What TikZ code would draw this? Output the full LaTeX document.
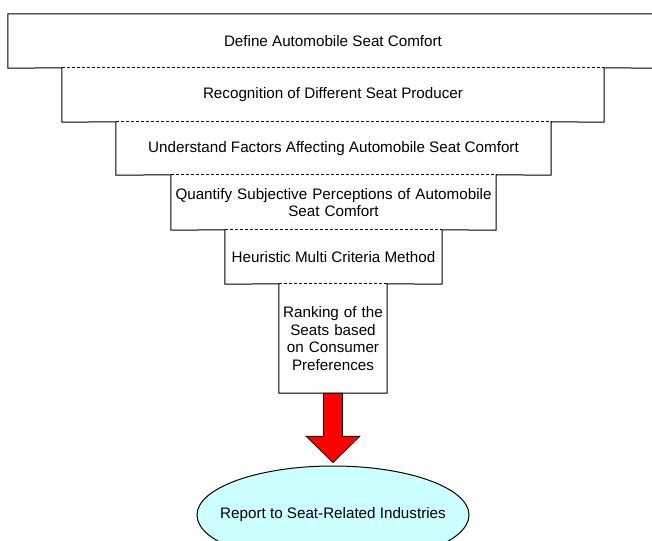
\documentclass[tikz,border=0pt]{standalone}
\usepackage{fontspec}
\setmainfont{Liberation Sans}
\usetikzlibrary{calc,shapes.geometric}
\definecolor{lightcyan}{HTML}{CCFFFF}
\begin{document}
\begin{tikzpicture}[x=1pt,y=-1pt,
  stage/.style={draw=none,inner sep=0pt,align=center,font=\fontsize{15.2}{17.5}\selectfont},
  outline/.style={draw=black,line width=1pt,line join=miter},
  shared/.style={draw=black,line width=0.9pt,dashed,dash pattern=on 3pt off 2pt},
  bigarrow/.style={fill=red,draw=black,line width=0.7pt,line join=miter},
  goal/.style={ellipse,draw=black,line width=1pt,fill=lightcyan,minimum width=272pt,minimum height=98pt,inner sep=0pt},
  goaltext/.style={inner sep=0pt,font=\fontsize{15.2}{17.5}\selectfont}]
\useasboundingbox (0,0) rectangle (652,540);
\clip (0,0) rectangle (652,540);
\node[stage,minimum width=650pt,minimum height=54pt] (b1) at (333,41) {Define Automobile Seat Comfort};
\node[stage,minimum width=542pt,minimum height=54pt] (b2) at (333,95) {Recognition of Different Seat Producer};
\node[stage,minimum width=435pt,minimum height=53pt] (b3) at (333.5,148.5) {Understand Factors Affecting Automobile Seat Comfort};
\node[stage,minimum width=325pt,minimum height=55pt,text width=322pt] (b4) at (333.5,202.5) {Quantify Subjective Perceptions of Automobile\\Seat Comfort};
\node[stage,minimum width=217pt,minimum height=54pt] (b5) at (333.5,257) {Heuristic Multi Criteria Method};
\node[stage,minimum width=108pt,minimum height=109pt,text width=106pt] (b6) at (333,338.5) {Ranking of the\\Seats based\\on Consumer\\Preferences};
\node[goal] (e) at (333,515) {};
\node[goaltext] (et) at (e.center) {Report to Seat-Related Industries};
% staircase outline
\draw[outline] (b1.south west) -- (b1.north west) -- (b1.north east) -- (b1.south east)
  -- (b2.north east) -- (b2.south east) -- (b3.north east) -- (b3.south east)
  -- (b4.north east) -- (b4.south east) -- (b5.north east) -- (b5.south east)
  -- (b6.north east) -- (b6.south east) -- (b6.south west) -- (b6.north west)
  -- (b5.south west) -- (b5.north west) -- (b4.south west) -- (b4.north west)
  -- (b3.south west) -- (b3.north west) -- (b2.south west) -- (b2.north west)
  -- cycle;
% shared (dashed) edges
\foreach \s in {b2,b3,b4,b5,b6}{
  \draw[shared] (\s.north west) -- (\s.north east);
}
% arrow from ranking box to report
\coordinate (as) at (b6.south);
\coordinate (at) at ($(e.north)+(0,-3)$);
\filldraw[bigarrow] ($(as)+(-9.5,0)$) -- ($(as)+(9.5,0)$) -- ($(as)+(9.5,43)$) -- ($(as)+(27,43)$)
  -- (at) -- ($(as)+(-27,43)$) -- ($(as)+(-9.5,43)$) -- cycle;
\end{tikzpicture}
\end{document}
